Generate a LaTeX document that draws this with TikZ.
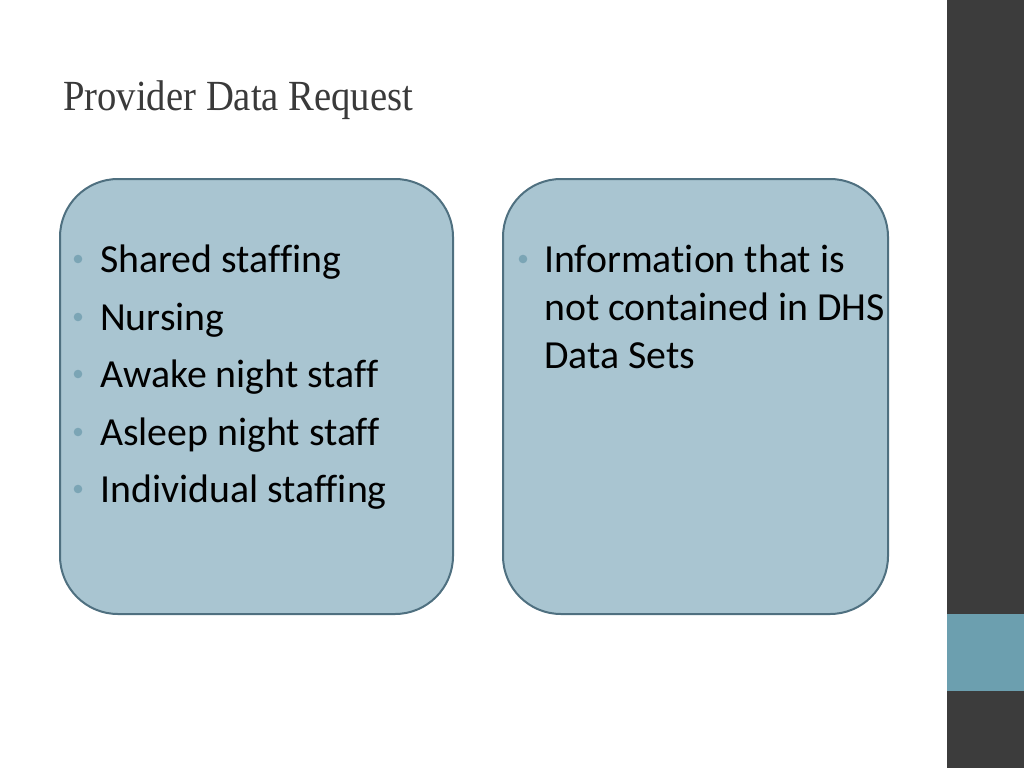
\documentclass[tikz,border=0pt]{standalone}
\usepackage{fontspec}
\setmainfont{Carlito}[Ligatures=NoCommon]
\newfontfamily\titlefont{Liberation Serif}
\definecolor{boxfill}{HTML}{A9C5D1}
\definecolor{boxline}{HTML}{4F7080}
\definecolor{bulletc}{HTML}{7BA5B5}
\definecolor{sidebar}{HTML}{3C3C3C}
\definecolor{accent}{HTML}{6C9FAF}
\definecolor{titlec}{HTML}{3A3A3A}
\begin{document}
\begin{tikzpicture}[x=1pt,y=-1pt,
  panel/.style={draw=boxline,line width=2pt,fill=boxfill,rounded corners=58pt},
  item/.style={anchor=base west,inner sep=0pt,font=\fontsize{39.8}{48}\selectfont,text=black},
  dot/.style={fill=bulletc,draw=none}]
\useasboundingbox (0,0) rectangle (1024,768);
\fill[white] (0,0) rectangle (1024,768);
% sidebar
\fill[sidebar] (947,0) rectangle (1024,768);
\fill[accent] (947,614) rectangle (1024,691);
% title
\node[anchor=base west,inner sep=0pt,text=titlec] (title) at (63,110)
  {\resizebox{350pt}{!}{\scalebox{0.9}[1]{\titlefont\fontsize{37}{42}\selectfont Provider Data Request}}};
% panels
\draw[panel] (60,179) rectangle (453,614);
\draw[panel] (503,179) rectangle (888,614);
% left items
\foreach \t/\y [count=\i] in {Shared staffing/272,Nursing/330,Awake night staff/387,Asleep night staff/445,Individual staffing/502}{
  \fill[dot] (78,\y-13) circle (4.3);
  \node[item] (l\i) at (100,\y) {\t};
}
% right items
\fill[dot] (523,259) circle (4.3);
\node[item] (r1) at (544,272) {Information that is};
\node[item] (r2) at (544,320) {not contained in DHS};
\node[item] (r3) at (544,368) {Data Sets};
\end{tikzpicture}
\end{document}
